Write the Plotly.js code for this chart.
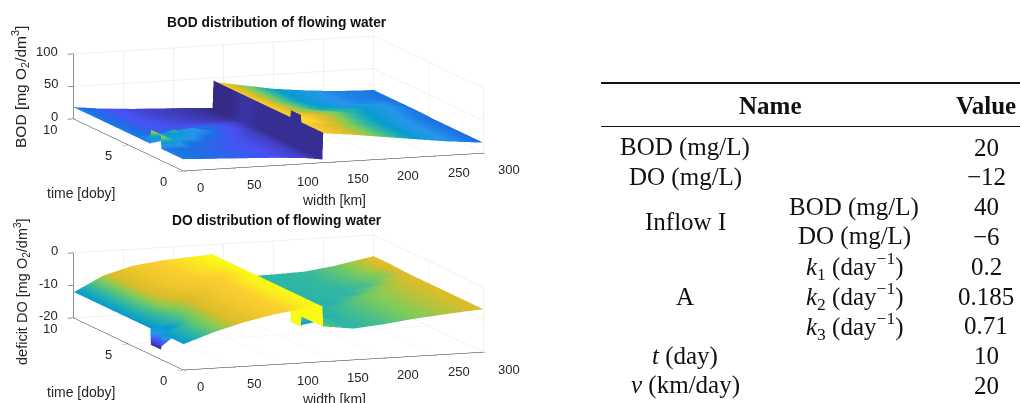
<!DOCTYPE html>
<html><head><meta charset="utf-8">
<script src="https://cdn.plot.ly/plotly-3.0.1.min.js"></script>
<style>html,body{margin:0;padding:0;background:#fff}#c{width:1020px;height:403px}</style>
</head><body><div id="c"></div>
<script>
const widthKm = [0,1,30,60,90,120,139,139.9,140,141,170,200,230,260,280,300];
const timeDays = [0,2,2.05,2.95,3,3.6,4.6,5.7,6.7,7.4,8.5,10];
const bod = [
[18,18,16,14,12,9,5,46,46,45,40,34,28,22,19,16],
[18,18,16,14,12,9,5,46,46,45,40,34,28,22,19,16],
[40,38,17,14,12,9,5,57,57,50,41,34,28,22,19,16],
[40,38,19,14,12,9,5,57,57,50,41,34,28,22,19,16],
[18,19,24,15,12,9,5,46,46,46,42,35,28,22,19,16],
[18,18,32,17,12,9,5,46,46,45,42,35,28,22,19,16],
[18,18,15,24,13,9,5,46,46,45,38,36,29,23,19,16],
[18,18,14,13,16,10,5,46,46,45,37,30,30,24,20,17],
[18,18,13,11,10,10,6,46,46,45,36,29,24,24,21,17],
[18,18,13,11,9,7,6,46,46,44,36,28,23,20,20,17],
[18,18,13,10,8,6,4,46,46,44,36,28,23,19,18,17],
[18,18,13,10,8,6,4,46,46,44,36,28,23,19,18,17]];
const deficit = [
[-12,-12,-9,-6.5,-4.6,-3.4,-3,-9.3,-9.3,-9.2,-10.4,-9.6,-8.5,-7.7,-7.2,-6.8],
[-12,-12,-9,-6.5,-4.6,-3.4,-3,-9.3,-9.3,-9.2,-10.4,-9.6,-8.5,-7.7,-7.2,-6.8],
[-17,-16,-9.2,-6.5,-4.6,-3.4,-3,-12.5,-12.5,-12,-10.6,-9.6,-8.5,-7.7,-7.2,-6.8],
[-17,-16,-9.5,-6.5,-4.6,-3.4,-3,-12.5,-12.5,-12,-10.6,-9.6,-8.5,-7.7,-7.2,-6.8],
[-12,-12,-9.5,-6.5,-4.6,-3.4,-3,-9.4,-9.4,-9.3,-10.6,-9.6,-8.5,-7.7,-7.2,-6.8],
[-12,-12,-9.5,-6.5,-4.6,-3.4,-3,-9.5,-9.5,-9.4,-10.8,-9.6,-8.5,-7.7,-7.2,-6.8],
[-12,-12,-8.2,-7,-4.6,-3.4,-3,-9.6,-9.6,-9.5,-10.4,-10.6,-8.7,-7.7,-7.2,-6.8],
[-12,-12,-7.7,-5.8,-5,-3.4,-3,-9.8,-9.8,-9.7,-10.4,-10.4,-10.3,-8,-7.2,-6.8],
[-12,-12,-7.5,-5,-4.3,-3.8,-3,-10,-10,-9.9,-10.4,-10.3,-10.2,-9.6,-7.5,-6.8],
[-12,-12,-7.5,-5,-3.9,-3.5,-3,-10,-10,-10,-10.4,-10.3,-10,-9,-8.5,-6.7],
[-12,-12,-7.5,-5,-3.9,-3.3,-3,-10,-10,-10,-10.4,-10.3,-10,-8.8,-7.6,-6.5],
[-12,-12,-7.5,-5,-3.9,-3.3,-3,-10,-10,-10,-10.4,-10.3,-10,-8.8,-7.6,-6.5]];

const widthTicks = [0,50,100,150,200,250,300];
const timeTicks = [0,5,10];
const bodTicks = [0,50,100];
const doTicks = [-20,-10,0];

const tableLeft = ["BOD (mg/L)","DO (mg/L)","Inflow I","A","<i>t</i> (day)","<i>v</i> (km/day)"];
const tableLeftRow = [0,1,2.5,5,7,8];
const tableMid = ["BOD (mg/L)","DO (mg/L)","<i>k</i><sub>1</sub> (day<sup>−1</sup>)","<i>k</i><sub>2</sub> (day<sup>−1</sup>)","<i>k</i><sub>3</sub> (day<sup>−1</sup>)"];
const tableMidRow = [2,3,4,5,6];
const tableValues = ["20","−12","40","−6","0.2","0.185","0.71","10","20"];

const parulaBod = [[0,'#352a87'],[0.15,'#4852f4'],[0.24,'#1a72e4'],[0.33,'#2796eb'],[0.44,'#079cd0'],[0.52,'#32b8a1'],[0.6,'#81cc59'],[0.68,'#dcbd29'],[0.78,'#fccf30'],[1,'#f9fb15']];
const parulaDo = [[0,'#352a87'],[0.111,'#4852f4'],[0.238,'#2796eb'],[0.365,'#079cd0'],[0.49,'#32b8a1'],[0.62,'#81cc59'],[0.72,'#dcbd29'],[0.93,'#fccf30'],[1,'#f9fb15']];

function facetColour(z){ const w = widthKm.indexOf(139.9); return z.map(r=>r.map((v,i)=>i===w? r[i-1]:v)); }

function surf(z,scene,cmin,cmax,scale){
  return {type:'surface',x:widthKm,y:timeDays,z:z,surfacecolor:facetColour(z),scene:scene,
    colorscale:scale,cmin:cmin,cmax:cmax,showscale:false,hoverinfo:'skip',
    lighting:{ambient:1,diffuse:0,specular:0,roughness:1,fresnel:0}};
}
const sans='Liberation Sans, Arial, sans-serif';
const tf = {family:sans,size:13,color:'#262626'};
function axis(range,dtick){
  return {range:range,dtick:dtick,tickmode:'linear',title:{text:''},showgrid:true,gridcolor:'#e4e4e4',gridwidth:1,
    zeroline:false,showbackground:false,showspikes:false,showline:true,linecolor:'#262626',linewidth:1,
    ticks:'outside',ticklen:6,tickcolor:'#262626',tickfont:tf,showticklabels:false};
}
const k=14, s=3.56;
const eye = {x:-0.329*k,y:-0.93*k,z:0.168*k};
function scene(zr,zd,dom,zTicks){
  const a=[];
  widthTicks.forEach(v=>a.push({x:v,y:0,z:zr[0],text:String(v),showarrow:false,font:tf,xanchor:'left',yanchor:'middle',xshift:12,yshift:-17}));
  timeTicks.forEach(v=>a.push({x:0,y:v,z:zr[0],text:String(v),showarrow:false,font:tf,xanchor:'right',yanchor:'middle',xshift:-14,yshift:-11}));
  zTicks.forEach(v=>a.push({x:0,y:10,z:v,text:String(v),showarrow:false,font:tf,xanchor:'right',yanchor:'middle',xshift:-13,yshift:2}));
  return {domain:{x:[0,0.546],y:dom},
    xaxis:axis([0,300],50),yaxis:axis([0,10],5),zaxis:axis(zr,zd),
    aspectmode:'manual',aspectratio:{x:s,y:1.034*s,z:0.207*s},annotations:a,
    camera:{eye:eye,center:{x:0,y:0,z:0},up:{x:0,y:0,z:1},projection:{type:'orthographic'}}};
}
const ann=[], H=403, W=1020;
function txt(px,py,t,o){ ann.push(Object.assign({xref:'paper',yref:'paper',x:px/W,y:1-py/H,text:t,showarrow:false,
  xanchor:'center',yanchor:'middle',font:{family:sans,size:14,color:'#262626'}},o||{})); }
const bold={font:{family:sans,size:13.8,color:'#111'}};
txt(277,23,'<b>BOD distribution of flowing water</b>',bold);
txt(277,221,'<b>DO distribution of flowing water</b>',bold);
txt(81,193,'time [doby]');
txt(334,200,'width [km]');
txt(81,392,'time [doby]');
txt(334,399,'width [km]');
txt(20,87,'BOD [mg O<sub>2</sub>/dm<sup>3</sup>]',{textangle:-90,font:{family:sans,size:15.5,color:'#262626'}});
txt(22,292,'deficit DO [mg O<sub>2</sub>/dm<sup>3</sup>]',{textangle:-90,font:{family:sans,size:14.5,color:'#262626'}});
const sf={font:{family:'Liberation Serif, serif',size:25,color:'#111'}};
const rowY=i=>147+i*29.8;
txt(770,105,'<b>Name</b>',sf);
txt(986,105,'<b>Value</b>',sf);
tableLeft.forEach((t,i)=>txt(685,rowY(tableLeftRow[i]),t,sf));
tableMid.forEach((t,i)=>txt(854,rowY(tableMidRow[i]),t,sf));
tableValues.forEach((t,i)=>txt(986,rowY(i),t,sf));
function hl(y,w){return {type:'line',xref:'paper',yref:'paper',x0:601/W,x1:1020/W,y0:1-y/H,y1:1-y/H,line:{color:'#111',width:w}};}

Plotly.newPlot('c',[surf(bod,'scene',4,57,parulaBod),surf(deficit,'scene2',-17,-3,parulaDo)],{
  width:W,height:H,margin:{l:0,r:0,t:0,b:0},paper_bgcolor:'#fff',showlegend:false,
  scene:scene([0,100],50,[0.5215,0.9665],bodTicks),
  scene2:scene([-20,0],10,[0.0275,0.4725],doTicks),
  annotations:ann,shapes:[hl(83,2),hl(126.5,1)]
},{displayModeBar:false});
</script></body></html>
